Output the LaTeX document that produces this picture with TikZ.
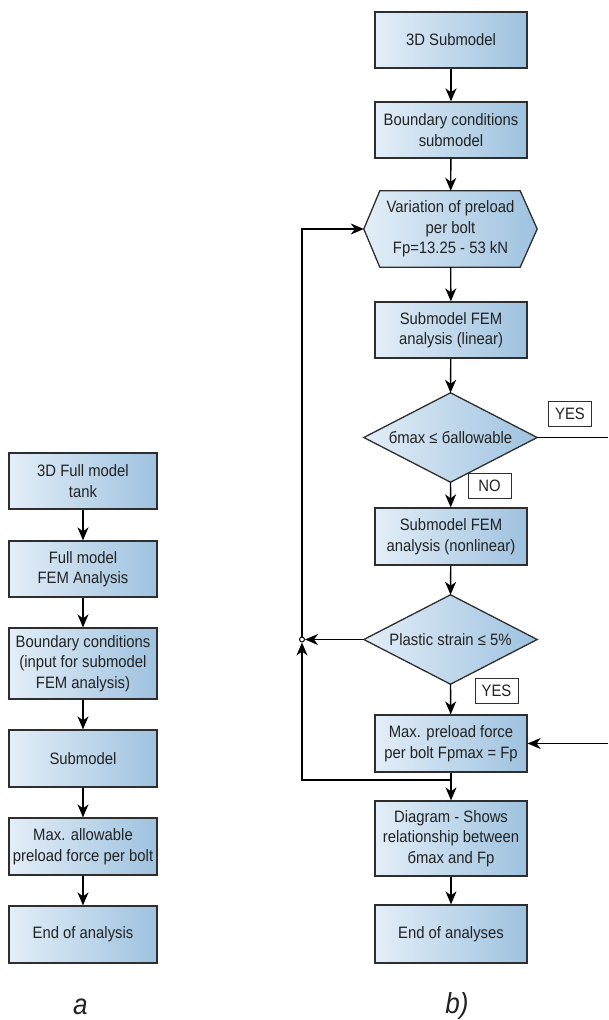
\documentclass[tikz,border=0pt]{standalone}
\usepackage{fontspec}
\setmainfont[FakeStretch=0.9]{Liberation Sans}
\usetikzlibrary{arrows.meta,backgrounds}
\definecolor{boxL}{HTML}{E3EEF8}
\definecolor{boxR}{HTML}{9EC2DF}
\definecolor{edgec}{HTML}{2E2E2E}
\definecolor{txt}{HTML}{222222}
\begin{document}
\begin{tikzpicture}[x=1pt,y=-1pt,
  font=\fontsize{16.5}{20.5}\selectfont,
  box/.style={draw=edgec, line width=1.3pt, left color=boxL, right color=boxR,
    minimum width=152pt, minimum height=56pt, inner sep=0pt, align=center, text=txt},
  lbox/.style={box, minimum width=148pt},
  shapebox/.style={minimum width=173pt, inner sep=0pt, align=center, text=txt},
  shapefill/.style={draw=edgec, line width=1.3pt, left color=boxL, right color=boxR},
  tag/.style={draw=edgec, line width=1pt, fill=white, inner sep=0pt,
    minimum width=43pt, minimum height=25pt, text=txt},
  arr/.style={draw=black, line width=1.4pt, -{Stealth[length=13pt,width=11pt,inset=4pt]}},
  ln/.style={draw=black, line width=1.4pt},
  captext/.style={font=\fontsize{29}{30}\selectfont\itshape, text=txt}]
\useasboundingbox (0,0) rectangle (608,1020);

% ---- left flowchart (a)
\node[lbox] (l1) at (83,481) {3D Full model\\tank};
\node[lbox] (l2) at (83,569) {Full model\\FEM Analysis};
\node[lbox, minimum height=71pt] (l3) at (83,663.5) {Boundary conditions\\(input for submodel\\FEM analysis)};
\node[lbox, minimum height=57pt] (l4) at (83,758.5) {Submodel};
\node[lbox, minimum height=57pt] (l5) at (83,846.5) {Max. allowable\\preload force per bolt};
\node[lbox, minimum height=57pt] (l6) at (83,934.5) {End of analysis};
\draw[arr] (l1) -- (l2);
\draw[arr] (l2) -- (l3);
\draw[arr] (l3) -- (l4);
\draw[arr] (l4) -- (l5);
\draw[arr] (l5) -- (l6);
\node[captext, anchor=base] (capa) at (80.5,1014) {a};

% ---- right flowchart (b)
\node[box] (r1) at (451,40) {3D Submodel};
\node[box] (r2) at (451,130) {Boundary conditions\\submodel};
\node[shapebox, minimum height=76pt] (hex) at (450.5,229) {Variation of preload\\per bolt\\Fp=13.25 - 53 kN};
\node[box] (r4) at (451,330) {Submodel FEM\\analysis (linear)};
\node[shapebox, minimum height=89pt] (d1) at (450.5,437.5) {бmax ≤ бallowable};
\node[box, minimum height=57pt] (r5) at (451,536.5) {Submodel FEM\\analysis (nonlinear)};
\node[shapebox, minimum height=89pt] (d2) at (450.5,639.5) {Plastic strain ≤ 5\%};
\node[box, minimum height=57pt] (r6) at (451,743.5) {Max. preload force\\per bolt Fpmax = Fp};
\node[box, minimum height=75pt] (r7) at (451,838.5) {Diagram - Shows\\relationship between\\бmax and Fp};
\node[box, minimum height=58pt] (r8) at (451,934) {End of analyses};
\node[captext, anchor=base] (capb) at (457,1013) {b)};

\begin{scope}[on background layer]
  \path[shapefill] (hex.west) -- ([xshift=16pt]hex.north west) -- ([xshift=-17pt]hex.north east)
    -- (hex.east) -- ([xshift=-17pt]hex.south east) -- ([xshift=16pt]hex.south west) -- cycle;
  \path[shapefill] (d1.west) -- (d1.north) -- (d1.east) -- (d1.south) -- cycle;
  \path[shapefill] (d2.west) -- (d2.north) -- (d2.east) -- (d2.south) -- cycle;
\end{scope}

\node[circle, draw=black, line width=1pt, fill=white, inner sep=0pt, minimum size=5pt] (c) at (302,639.5) {};
\coordinate (j) at (451,780);
\coordinate (e1) at (608,437.5);
\coordinate (e2) at (608,743.5);

\draw[arr] (r1) -- (r2);
\draw[arr] (r2) -- (hex);
\draw[arr] (hex) -- (r4);
\draw[arr] (r4) -- (d1.north);
\draw[arr] (d1.south) -- (r5);
\draw[arr] (r5) -- (d2.north);
\draw[arr] (d2.south) -- (r6);
\draw[arr] (r6) -- (r7);
\draw[arr] (r7) -- (r8);
\draw[arr] (d2.west) -- (c);
\draw[arr] (j) -| (c);
\draw[arr] (c) |- (hex.west);
\draw[ln] (d1.east) -- (e1);
\draw[arr] (e2) -- (r6.east);

\node[tag] (yes1) at (570,413.5) {YES};
\node[tag] (no1) at (489.5,485.5) {NO};
\node[tag] (yes2) at (496.5,690.5) {YES};
\end{tikzpicture}
\end{document}
